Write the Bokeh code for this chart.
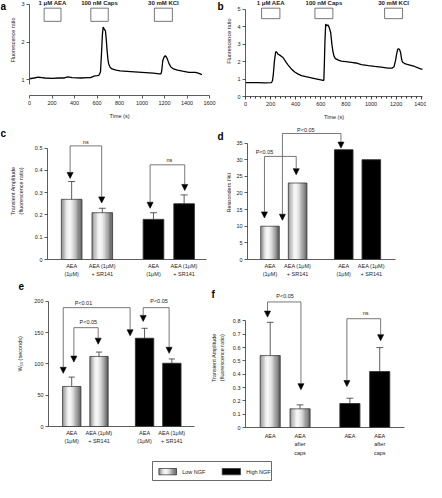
import numpy as np
from bokeh.plotting import figure
from bokeh.models import Range1d, FixedTicker, Arrow, NormalHead, ColumnDataSource, Spacer
from bokeh.layouts import row, column
from bokeh.core.properties import value
from bokeh.embed import file_html
from bokeh.resources import INLINE

FONT = "Liberation Sans"
FS = "5.5px"
AX = "#333333"
TXT = "#222222"

# ---------------- data ----------------
a_time = [0, 40, 78, 110, 137, 200, 260, 311, 340, 380, 457, 520, 544, 573, 600, 617, 631, 640, 648, 655,
          662, 675, 683, 689, 697, 704, 718, 733, 770, 806, 900, 1000, 1100, 1155, 1169, 1176, 1184, 1195,
          1207, 1218, 1228, 1240, 1257, 1280, 1315, 1360, 1417, 1475, 1500, 1533]
a_ratio = [1.03, 1.05, 1.07, 1.06, 1.05, 1.04, 1.05, 1.05, 1.08, 1.06, 1.05, 1.06, 1.06, 1.10, 1.11, 1.12,
           1.21, 1.70, 2.20, 2.40, 2.36, 2.30, 2.05, 1.80, 1.55, 1.42, 1.33, 1.29, 1.26, 1.24, 1.22, 1.20,
           1.18, 1.16, 1.16, 1.25, 1.50, 1.60, 1.64, 1.60, 1.53, 1.43, 1.34, 1.29, 1.26, 1.23, 1.20, 1.20,
           1.18, 1.14]

b_time = [0, 50, 100, 150, 207, 215, 222, 230, 240, 247, 260, 273, 290, 300, 320, 340, 365, 392, 420, 446,
          480, 525, 570, 600, 618, 624, 628, 633, 639, 648, 656, 663, 671, 679, 688, 697, 706, 716, 740, 764,
          800, 843, 880, 923, 980, 1029, 1080, 1135, 1170, 1183, 1195, 1202, 1212, 1220, 1228, 1236, 1243,
          1250, 1265, 1281, 1310, 1347, 1380, 1400, 1440, 1475]
b_ratio = [0.80, 0.79, 0.79, 0.78, 0.80, 0.90, 1.30, 2.00, 2.55, 2.55, 2.42, 2.37, 2.28, 2.22, 2.00, 1.80,
           1.58, 1.40, 1.28, 1.20, 1.14, 1.07, 1.00, 0.95, 0.92, 0.93, 1.80, 3.20, 4.15, 4.05, 4.10, 4.02,
           3.85, 3.65, 3.00, 2.55, 2.30, 2.17, 2.08, 2.03, 2.00, 1.96, 1.92, 1.83, 1.77, 1.72, 1.68, 1.63,
           1.63, 1.70, 2.05, 2.35, 2.70, 2.74, 2.68, 2.50, 2.15, 1.98, 1.90, 1.86, 1.80, 1.72, 1.62, 1.57,
           1.55, 1.53]

stim_labels = ["1 μM AEA", "100 nM Caps", "30 mM KCl"]
a_stim_start = [130, 545, 1110]
a_stim_end = [280, 700, 1270]
b_stim_start = [128, 553, 1108]
b_stim_end = [274, 696, 1251]

a_yticks = [1, 2, 3]
b_yticks = [0, 1, 2, 3, 4, 5]
a_xticks = [0, 200, 400, 600, 800, 1000, 1200, 1400, 1600]
b_xticks = [0, 200, 400, 600, 800, 1000, 1200, 1400]

groups = ["Low NGF", "Low NGF", "High NGF", "High NGF"]
cats_sr = ["AEA\n(1μM)", "AEA (1μM)\n+ SR141", "AEA\n(1μM)", "AEA (1μM)\n+ SR141"]
cats_caps = ["AEA", "AEA\nafter\ncaps", "AEA", "AEA\nafter\ncaps"]

c_mean = [0.27, 0.21, 0.18, 0.25]
c_err = [0.08, 0.02, 0.03, 0.04]
d_mean = [10, 23, 33, 30]
d_err = [0, 0, 0, 0]
e_mean = [64, 112, 141, 101]
e_err = [15, 7, 16, 7]
f_mean = [0.54, 0.14, 0.18, 0.42]
f_err = [0.25, 0.03, 0.04, 0.18]

c_yticks = [0.0, 0.1, 0.2, 0.3, 0.4, 0.5]
d_yticks = [0, 5, 10, 15, 20, 25, 30, 35]
e_yticks = [0, 50, 100, 150, 200]
f_yticks = [0.0, 0.1, 0.2, 0.3, 0.4, 0.5, 0.6, 0.7, 0.8]

# significance annotations
c_sig = dict(x0=[95, 356], x1=[198, 469], top=[0.51, 0.425], tip0=[0.364, 0.23], tip1=[0.254, 0.31],
             label=["ns", "ns"], lx=[146, 419], ly=[0.527, 0.447])
d_sig = dict(x0=[80, 145], x1=[195, 357], top=[31, 37.9], tip0=[12.5, 11.8], tip1=[25.5, 33.5],
             label=["P<0.05", "P<0.05"], lx=[80, 230], ly=[32.3, 38.8])
e_sig = dict(x0=[69, 108, 362], x1=[314, 197, 457], top=[190, 158, 190], tip0=[85, 103, 168],
             tip1=[145, 131.6, 117], label=["P<0.01", "P<0.05", "P<0.05"], lx=[143, 161, 420],
             ly=[198, 167.7, 200])
f_sig = dict(x0=[91, 357], x1=[203, 470], top=[0.943, 0.817], tip0=[0.829, 0.308], tip1=[0.284, 0.652],
             label=["P<0.05", "ns"], lx=[150, 420], ly=[0.987, 0.861])

legend_labels = ["Low NGF", "High NGF"]

# ---------------- layout constants ----------------
XPOS = [100, 200, 367, 467]
BW = 67
GRAD_POS = [0.0, 0.12, 0.3, 0.42, 0.6, 0.8, 1.0]
GRAD_VAL = [125, 180, 240, 250, 215, 150, 90]
NSL = 16


def grad_colors():
    fr = (np.arange(NSL) + 0.5) / NSL
    g = np.interp(fr, GRAD_POS, GRAD_VAL)
    return ["#%02x%02x%02x" % (int(v), int(v), int(v)) for v in g]


def blank_fig(W, H, b=0):
    p = figure(width=W, height=H, x_range=Range1d(0, W - 2 * b), y_range=Range1d(0, H - 2 * b),
               output_backend="svg", toolbar_location=None, title=None,
               x_axis_location=None, y_axis_location=None, min_border=b)
    p.outline_line_color = None
    p.xgrid.visible = False
    p.ygrid.visible = False
    return p


def strip(S, H, let, let_pos, ylabel, ylab_pos):
    """Left strip holding the panel letter and the y-axis title (pixel coordinates)."""
    s = blank_fig(S, H)
    s.text(x=[let_pos[0]], y=[H - let_pos[1]], text=[let], text_font=value(FONT),
           text_font_size="10px", text_font_style="bold", text_align="left",
           text_baseline="alphabetic", text_color="black")
    s.text(x=[ylab_pos[0]], y=[H - ylab_pos[1]], text=[ylabel], angle=np.pi / 2,
           text_font=value(FONT), text_font_size=FS, text_align="center",
           text_baseline="middle", text_color=TXT, text_line_height=1.3)
    return s


def make_fig(W, H, l, r, t, b, xr, yr):
    p = figure(width=W, height=H, x_range=Range1d(*xr), y_range=Range1d(*yr),
               output_backend="svg", toolbar_location=None, title=None,
               min_border_left=l, min_border_right=r, min_border_top=t, min_border_bottom=b)
    p.outline_line_color = None
    p.xgrid.visible = False
    p.ygrid.visible = False
    for ax in p.axis:
        ax.axis_line_color = AX
        ax.axis_line_width = 0.8
        ax.major_tick_line_color = AX
        ax.major_tick_line_width = 0.8
        ax.major_tick_in = 0
        ax.major_tick_out = 3
        ax.minor_tick_line_color = None
        ax.major_label_text_font = FONT
        ax.major_label_text_font_size = FS
        ax.major_label_text_color = TXT
        ax.major_label_standoff = 2
        ax.axis_label_text_font = FONT
        ax.axis_label_text_font_size = FS
        ax.axis_label_text_font_style = "normal"
        ax.axis_label_text_color = TXT
    return p


def trace_panel(W, H, S, l, r, t, b, xr, yr, ybounds, yticks, xticks, times, ratios, s0, s1,
                box_lo, box_hi, text_y, let, let_pos, ylab_pos, minor):
    p = make_fig(W - S, H, l - S, r, t, b, xr, yr)
    p.xaxis.ticker = FixedTicker(ticks=xticks, minor_ticks=minor)
    p.yaxis.ticker = FixedTicker(ticks=yticks)
    p.yaxis.bounds = ybounds
    p.xaxis.axis_label = "Time (s)"
    p.xaxis.axis_label_standoff = 5
    if minor:
        p.xaxis.minor_tick_line_color = AX
        p.xaxis.minor_tick_out = 2
        p.xaxis.minor_tick_in = 0
    p.quad(left=s0, right=s1, bottom=box_lo, top=box_hi, fill_color="white",
           line_color="#555555", line_width=0.8)
    p.text(x=[(u + v) / 2 for u, v in zip(s0, s1)], y=[text_y] * len(s0), text=stim_labels,
           text_font=value(FONT), text_font_size="6px", text_font_style="bold",
           text_align="center", text_baseline="middle", text_color=TXT)
    p.line(times, ratios, line_color="black", line_width=1.3)
    s = strip(S, H, let, let_pos, "Fluorescence ratio", ylab_pos)
    return row(s, p)


def bar_panel(W, H, S, l, r, t, b, xr, yr, ybounds, yticks, means, errs, cats, sig, ylabel,
              let, let_pos, ylab_pos, xlab_standoff):
    p = make_fig(W - S, H, l - S, r, t, b, xr, yr)
    p.yaxis.ticker = FixedTicker(ticks=yticks)
    p.yaxis.bounds = ybounds
    p.xaxis.ticker = FixedTicker(ticks=XPOS)
    p.xaxis.major_label_overrides = {xp: c for xp, c in zip(XPOS, cats)}
    p.xaxis.major_tick_line_color = None
    p.xaxis.major_tick_out = 0
    p.xaxis.major_label_standoff = xlab_standoff
    p.xaxis.major_label_text_line_height = 1.45

    cols = grad_colors()
    L, R, T, C = [], [], [], []
    for x, m, g in zip(XPOS, means, groups):
        if g == "Low NGF":
            for k in range(NSL):
                L.append(x - BW / 2 + BW * k / NSL)
                R.append(x - BW / 2 + BW * (k + 1) / NSL)
                T.append(m)
                C.append(cols[k])
        else:
            L.append(x - BW / 2)
            R.append(x + BW / 2)
            T.append(m)
            C.append("black")
    p.quad(left=L, right=R, bottom=0, top=T, fill_color=C, line_color=C, line_width=0.4)
    p.quad(left=[x - BW / 2 for x in XPOS], right=[x + BW / 2 for x in XPOS], bottom=0, top=means,
           fill_color=None, line_color="#333333", line_width=0.7)

    ex = [x for x, e in zip(XPOS, errs) if e > 0]
    em = [m for m, e in zip(means, errs) if e > 0]
    et = [m + e for m, e in zip(means, errs) if e > 0]
    if ex:
        cw = BW * 0.17
        p.segment(x0=ex, y0=em, x1=ex, y1=et, line_color="#333333", line_width=0.8)
        p.segment(x0=[x - cw for x in ex], y0=et, x1=[x + cw for x in ex], y1=et,
                  line_color="#333333", line_width=0.8)

    BR = "#555555"
    p.segment(x0=sig["x0"], y0=sig["top"], x1=sig["x1"], y1=sig["top"], line_color=BR, line_width=0.8)
    src = ColumnDataSource(dict(xs=sig["x0"] + sig["x1"], ys=sig["top"] + sig["top"],
                                xe=sig["x0"] + sig["x1"], ye=sig["tip0"] + sig["tip1"]))
    p.add_layout(Arrow(end=NormalHead(size=6, fill_color="black", line_color="black", line_width=0.6),
                       x_start="xs", y_start="ys", x_end="xe", y_end="ye", source=src,
                       line_color=BR, line_width=0.8))
    p.text(x=sig["lx"], y=sig["ly"], text=sig["label"], text_font=value(FONT), text_font_size="5.5px",
           text_align="center", text_baseline="middle", text_color=TXT)
    s = strip(S, H, let, let_pos, ylabel, ylab_pos)
    return row(s, p)


pa = trace_panel(216, 122, 17, 29, 7, 0, 27, (0, 1600), (0.586, 3.103), (0.89, 3), a_yticks, a_xticks,
                 a_time, a_ratio, a_stim_start, a_stim_end, 2.55, 2.90, 3.024, "a", (0, 8),
                 (12.9, 50.7), [])
pb = trace_panel(210, 122, 17, 29, 4, 0, 25, (0, 1410), (0, 5.5), (0, 5), b_yticks, b_xticks,
                 b_time, b_ratio, b_stim_start, b_stim_end, 4.46, 5.06, 5.33, "b", (1, 8),
                 (12.4, 51.7), list(range(0, 1420, 40)))

pc = bar_panel(216, 158, 31, 47, 10, 0, 18, (21.2, 540), (0, 0.615), (0, 0.5), c_yticks, c_mean, c_err,
               cats_sr, c_sig, "Transient Amplitude\n(fluorescence ratio)", "c", (0, 13),
               (16.3, 78.9), 3)
pd = bar_panel(210, 158, 15, 31, 31, 0, 19, (18.6, 554.5), (0, 41.2), (0, 35), d_yticks, d_mean, d_err,
               cats_sr, d_sig, "Responders (%)", "d", (1, 16), (12.4, 80.8), 3)
pe = bar_panel(206, 178, 31, 47, 12, 0, 32, (15, 550), (0, 233.4), (0, 200), e_yticks, e_mean, e_err,
               cats_sr, e_sig, "W₅₀ (seconds)", "e", (18, 7), (19.8, 89.5), 3)
pf = bar_panel(220, 178, 23, 39, 22, 0, 30, (17.2, 550), (0, 1.104), (0, 0.8), f_yticks, f_mean, f_err,
               cats_caps, f_sig, "Transient Amplitude\n(fluorescence ratio)", "f", (5, 17),
               (11.8, 93.4), 5)

# legend box
leg = figure(width=121, height=21, x_range=Range1d(0, 119), y_range=Range1d(0, 19),
             output_backend="svg", toolbar_location=None, title=None,
             x_axis_location=None, y_axis_location=None, min_border=1)
leg.outline_line_color = "#444444"
leg.outline_line_width = 0.8
leg.xgrid.visible = False
leg.ygrid.visible = False
cols = grad_colors()
sw_l, sw_r = 6.4, 24.0
leg.quad(left=[sw_l + (sw_r - sw_l) * k / NSL for k in range(NSL)],
         right=[sw_l + (sw_r - sw_l) * (k + 1) / NSL for k in range(NSL)],
         bottom=5.7, top=12, fill_color=cols, line_color=cols, line_width=0.4)
leg.quad(left=[sw_l, 69.7], right=[sw_r, 88.0], bottom=5.7, top=12, fill_color=[None, "black"],
         line_color="#333333", line_width=0.7)
leg.text(x=[29.7, 93.7], y=[9, 9], text=legend_labels, text_font=value(FONT), text_font_size="5.5px",
         text_align="left", text_baseline="middle", text_color=TXT)

layout = column(
    row(pa, pb),
    row(pc, pd),
    row(pe, pf),
    Spacer(height=2),
    row(Spacer(width=151), leg),
)

open("out.html", "w").write(file_html(layout, INLINE))
